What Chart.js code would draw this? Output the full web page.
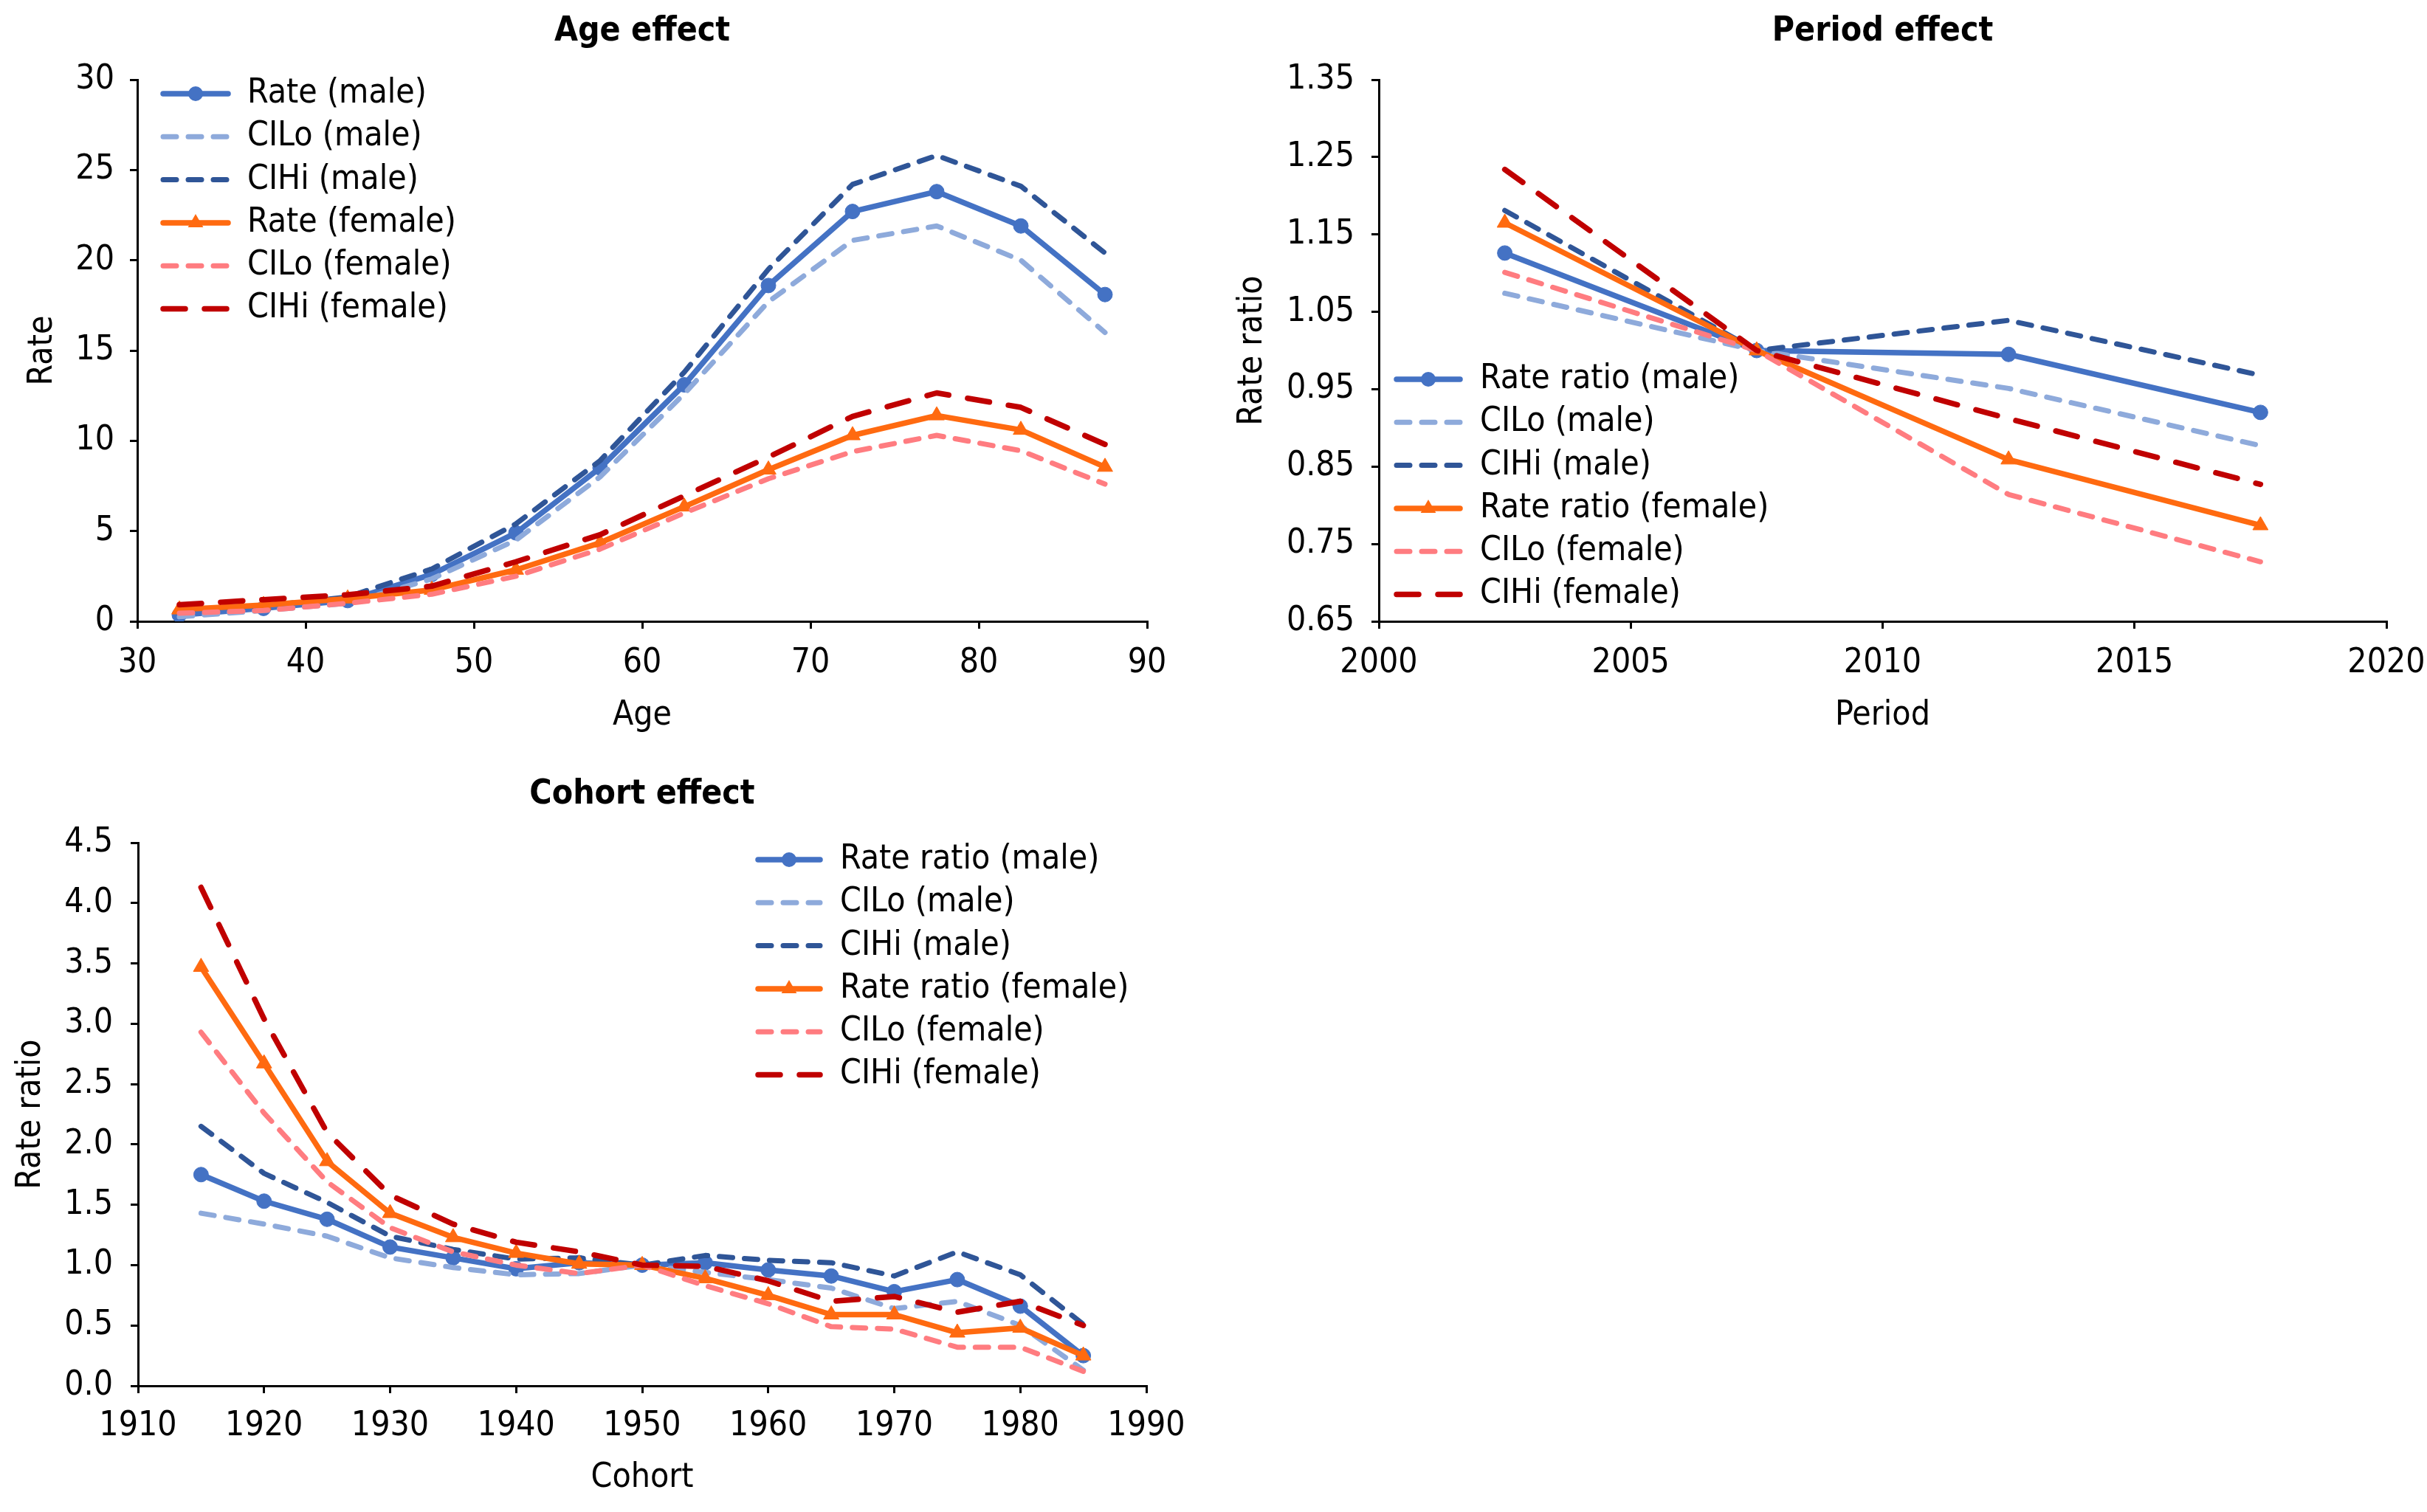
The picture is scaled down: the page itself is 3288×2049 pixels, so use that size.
<!DOCTYPE html>
<html>
<head>
<meta charset="utf-8">
<title>Age, period and cohort effects</title>
<script src="https://cdn.jsdelivr.net/npm/chart.js@4.4.1/dist/chart.umd.min.js"></script>
<style>
  html, body { margin: 0; padding: 0; background: #fff; }
  body { width: 3288px; height: 2049px; position: relative; overflow: hidden; }
  .panel { position: absolute; }
</style>
</head>
<body>
<div class="panel" style="left:0;top:0;width:1640px;height:1002px"><canvas id="ageChart"></canvas></div>
<div class="panel" style="left:1650px;top:0;width:1638px;height:1002px"><canvas id="periodChart"></canvas></div>
<div class="panel" style="left:0;top:1000px;width:1640px;height:1038px"><canvas id="cohortChart"></canvas></div>
<script>
// Age effect
const ageX = [32.5, 37.5, 42.5, 47.5, 52.5, 57.5, 62.5, 67.5, 72.5, 77.5, 82.5, 87.5];
const ageRateM = [0.35, 0.72, 1.15, 2.6, 4.9, 8.5, 13.1, 18.6, 22.7, 23.8, 21.9, 18.1];
const ageLoM   = [0.25, 0.6, 1.0, 2.35, 4.5, 8.0, 12.6, 17.7, 21.1, 21.9, 20.0, 16.0];
const ageHiM   = [0.5, 0.85, 1.35, 2.9, 5.4, 8.9, 13.8, 19.5, 24.2, 25.8, 24.1, 20.4];
const ageRateF = [0.65, 0.9, 1.26, 1.74, 2.85, 4.35, 6.35, 8.4, 10.3, 11.4, 10.6, 8.55];
const ageLoF   = [0.45, 0.6, 1.0, 1.5, 2.5, 4.0, 6.0, 7.9, 9.4, 10.3, 9.45, 7.6];
const ageHiF   = [0.92, 1.2, 1.47, 1.95, 3.3, 4.8, 6.95, 9.1, 11.35, 12.65, 11.85, 9.8];

// Period effect
const periodX = [2002.5, 2007.5, 2012.5, 2017.5];
const perRateM = [1.126, 1.0, 0.995, 0.920];
const perLoM   = [1.074, 1.0, 0.951, 0.877];
const perHiM   = [1.181, 1.0, 1.039, 0.968];
const perRateF = [1.165, 1.0, 0.859, 0.774];
const perLoF   = [1.101, 1.0, 0.814, 0.727];
const perHiF   = [1.234, 1.0, 0.912, 0.827];

// Cohort effect
const cohortX = [1915, 1920, 1925, 1930, 1935, 1940, 1945, 1950, 1955, 1960, 1965, 1970, 1975, 1980, 1985];
const cohRateM = [1.75, 1.53, 1.38, 1.15, 1.06, 0.97, 1.02, 1.0, 1.02, 0.96, 0.91, 0.78, 0.88, 0.66, 0.25];
const cohLoM   = [1.43, 1.34, 1.24, 1.06, 0.98, 0.92, 0.93, 1.0, 0.94, 0.88, 0.81, 0.64, 0.70, 0.50, 0.13];
const cohHiM   = [2.15, 1.76, 1.52, 1.24, 1.13, 1.05, 1.06, 1.0, 1.08, 1.04, 1.02, 0.91, 1.11, 0.92, 0.51];
const cohRateF = [3.47, 2.67, 1.86, 1.43, 1.23, 1.10, 1.01, 1.0, 0.89, 0.75, 0.59, 0.59, 0.44, 0.48, 0.25];
const cohLoF   = [2.93, 2.26, 1.69, 1.31, 1.11, 1.0, 0.93, 1.0, 0.83, 0.68, 0.49, 0.47, 0.32, 0.32, 0.12];
const cohHiF   = [4.13, 3.04, 2.10, 1.58, 1.34, 1.19, 1.11, 1.0, 0.99, 0.87, 0.70, 0.74, 0.61, 0.70, 0.50];

// axis ranges / ticks
const ageTicks = { xMin: 30, xMax: 90, xStep: 10, yMin: 0, yMax: 30, yStep: 5, yDec: 0 };
const periodTicks = { xMin: 2000, xMax: 2020, xStep: 5, yMin: 0.65, yMax: 1.35, yStep: 0.1, yDec: 2 };
const cohortTicks = { xMin: 1910, xMax: 1990, xStep: 10, yMin: 0, yMax: 4.5, yStep: 0.5, yDec: 1 };

const FONT = '"DejaVu Sans Condensed", "DejaVu Sans", sans-serif';
const FS = 46;
Chart.defaults.font.family = FONT;
Chart.defaults.color = '#000';

const seriesStyle = [
  { color: '#4472C4', dash: [], width: 7.5, point: 'circle', r: 10 },
  { color: '#8EAADB', dash: [18, 16], width: 7, point: false, r: 0 },
  { color: '#2F5597', dash: [18, 16], width: 7, point: false, r: 0 },
  { color: '#FF6A10', dash: [], width: 7.5, point: 'triangle', r: 12 },
  { color: '#FF7C80', dash: [18, 16], width: 7, point: false, r: 0 },
  { color: '#C00000', dash: [30, 26], width: 7.5, point: false, r: 0 }
];

function buildDatasets(xs, lists, rateWord) {
  const names = [rateWord + ' (male)', 'CILo (male)', 'CIHi (male)',
                 rateWord + ' (female)', 'CILo (female)', 'CIHi (female)'];
  return lists.map((ys, i) => {
    const s = seriesStyle[i];
    return {
      label: names[i],
      data: xs.map((x, j) => ({ x: x, y: ys[j] })),
      borderColor: s.color,
      backgroundColor: s.color,
      borderWidth: s.width,
      borderDash: s.dash,
      borderCapStyle: 'round',
      borderJoinStyle: 'round',
      pointStyle: s.point,
      pointRadius: s.r,
      pointBorderWidth: 1,
      tension: 0,
      fill: false,
      order: lists.length - i
    };
  });
}

// Excel-like title over the plot area and legend inside it
const excelDecor = {
  id: 'excelDecor',
  afterDraw(chart, args, opts) {
    const { ctx, chartArea } = chart;
    ctx.save();
    ctx.fillStyle = '#000';
    ctx.font = 'bold ' + FS + 'px ' + FONT;
    ctx.textAlign = 'center';
    ctx.textBaseline = 'middle';
    ctx.fillText(opts.title, (chartArea.left + chartArea.right) / 2, opts.titleY);

    const lg = opts.legend;
    chart.data.datasets.forEach((ds, i) => {
      const y = chartArea.top + lg.dy + i * lg.step;
      const x0 = chartArea.left + lg.dx;
      const x1 = x0 + lg.len;
      ctx.strokeStyle = ds.borderColor;
      ctx.lineWidth = ds.borderWidth;
      ctx.lineCap = 'round';
      ctx.setLineDash(ds.borderDash || []);
      ctx.beginPath();
      ctx.moveTo(x0 + 4, y);
      ctx.lineTo(x1 - 4, y);
      ctx.stroke();
      ctx.setLineDash([]);
      if (ds.pointRadius > 0) {
        const cx = (x0 + x1) / 2, r = ds.pointRadius;
        ctx.fillStyle = ds.backgroundColor;
        ctx.beginPath();
        if (ds.pointStyle === 'triangle') {
          ctx.moveTo(cx, y - r);
          ctx.lineTo(cx + 0.866 * r, y + 0.5 * r);
          ctx.lineTo(cx - 0.866 * r, y + 0.5 * r);
          ctx.closePath();
        } else {
          ctx.arc(cx, y, r, 0, Math.PI * 2);
        }
        ctx.fill();
      }
      ctx.fillStyle = '#000';
      ctx.font = FS + 'px ' + FONT;
      ctx.textAlign = 'left';
      ctx.textBaseline = 'middle';
      ctx.fillText(ds.label, x1 + lg.gap, y);
    });
    ctx.restore();
  }
};

function makeOptions(t, o) {
  const grid = { display: true, drawOnChartArea: false, drawTicks: true, tickLength: 10, color: '#000', lineWidth: 3 };
  const border = { display: true, color: '#000', width: 3 };
  return {
    responsive: true,
    maintainAspectRatio: false,
    devicePixelRatio: 1,
    animation: false,
    events: [],
    layout: { padding: { left: 0, right: o.padRight, top: o.padTop, bottom: 0 } },
    scales: {
      x: {
        type: 'linear', min: t.xMin, max: t.xMax,
        ticks: { stepSize: t.xStep, padding: o.xTickPad, font: { size: FS }, color: '#000',
                 callback: v => String(v) },
        grid: grid, border: border,
        title: { display: true, text: o.xTitle, font: { size: FS }, color: '#000',
                 padding: { top: 0, bottom: o.xTitlePad } },
        afterFit: s => { s.height = o.xHeight; s.paddingLeft = 0; s.paddingRight = 0; }
      },
      y: {
        type: 'linear', min: t.yMin, max: t.yMax,
        ticks: { stepSize: t.yStep, padding: o.yTickPad, font: { size: FS }, color: '#000',
                 callback: v => Number(v).toFixed(t.yDec) },
        grid: grid, border: border,
        title: { display: true, text: o.yTitle, font: { size: FS }, color: '#000',
                 padding: { top: o.yTitlePad, bottom: 0 } },
        afterFit: s => { s.width = o.yWidth; s.paddingTop = 0; s.paddingBottom = 0; }
      }
    },
    plugins: {
      legend: { display: false },
      tooltip: { enabled: false },
      title: { display: false },
      excelDecor: { title: o.title, titleY: o.titleY, legend: o.legend }
    }
  };
}

new Chart(document.getElementById('ageChart'), {
  type: 'line',
  data: { datasets: buildDatasets(ageX, [ageRateM, ageLoM, ageHiM, ageRateF, ageLoF, ageHiF], 'Rate') },
  options: makeOptions(ageTicks, {
    title: 'Age effect', titleY: 43, padTop: 108, padRight: 86,
    xTitle: 'Age', yTitle: 'Rate', xHeight: 160, xTickPad: 19, xTitlePad: 4,
    yWidth: 186, yTickPad: 21, yTitlePad: 30,
    legend: { dx: 31, dy: 19, step: 58.3, len: 96, gap: 22 }
  }),
  plugins: [excelDecor]
});

new Chart(document.getElementById('periodChart'), {
  type: 'line',
  data: { datasets: buildDatasets(periodX, [perRateM, perLoM, perHiM, perRateF, perLoF, perHiF], 'Rate ratio') },
  options: makeOptions(periodTicks, {
    title: 'Period effect', titleY: 43, padTop: 108, padRight: 55,
    xTitle: 'Period', yTitle: 'Rate ratio', xHeight: 160, xTickPad: 19, xTitlePad: 4,
    yWidth: 218, yTickPad: 23, yTitlePad: 19,
    legend: { dx: 20, dy: 406, step: 58.3, len: 94, gap: 23 }
  }),
  plugins: [excelDecor]
});

new Chart(document.getElementById('cohortChart'), {
  type: 'line',
  data: { datasets: buildDatasets(cohortX, [cohRateM, cohLoM, cohHiM, cohRateF, cohLoF, cohHiF], 'Rate ratio') },
  options: makeOptions(cohortTicks, {
    title: 'Cohort effect', titleY: 77, padTop: 142, padRight: 87,
    xTitle: 'Cohort', yTitle: 'Rate ratio', xHeight: 160, xTickPad: 17, xTitlePad: 7,
    yWidth: 187, yTickPad: 24, yTitlePad: 14,
    legend: { dx: 836, dy: 23, step: 58.3, len: 92, gap: 23 }
  }),
  plugins: [excelDecor]
});
</script>
</body>
</html>
